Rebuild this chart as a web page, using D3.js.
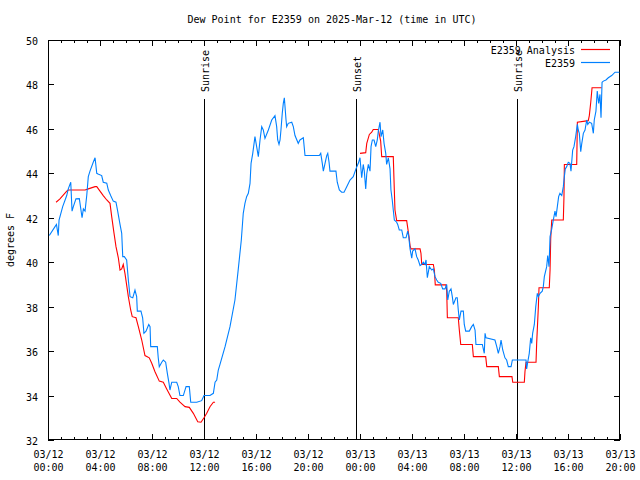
<!DOCTYPE html>
<html><head><meta charset="utf-8">
<script src="https://cdn.jsdelivr.net/npm/d3@7"></script>
<style>
body{margin:0;background:#fff;}
text{font-family:"DejaVu Sans Mono","Liberation Mono",monospace;font-size:10px;fill:#000;}
</style></head>
<body><svg id="c" width="640" height="480"></svg>
<script>
// ---------- data ----------
const titleText = "Dew Point for E2359 on 2025-Mar-12 (time in UTC)";
const yLabel = "degrees F";
const yTicks = [32,34,36,38,40,42,44,46,48,50];
const seriesNames = ["E2359 Analysis","E2359"];
const eventNames = ["Sunrise","Sunset","Sunrise"];
const eventHours = [12.0, 23.7, 36.08];

// observations (hours after 2025-03-12 00:00 UTC, deg F)
const obsHours = [0.1,0.54,0.65,0.79,0.85,1.13,1.44,1.56,1.75,1.85,1.95,2.15,2.41,2.62,2.72,2.85,2.98,3.1,3.23,3.48,3.62,3.75,3.85,4.13,4.25,4.52,4.64,4.82,5.02,5.23,5.36,5.54,5.67,5.75,5.87,6.05,6.18,6.31,6.52,6.69,6.82,6.87,7.15,7.28,7.38,7.54,7.75,7.85,7.9,8.41,8.48,8.56,8.75,8.87,9.05,9.18,9.31,9.38,9.52,9.9,10.02,10.15,10.41,10.62,10.87,10.98,11.44,11.82,12.0,12.46,12.72,12.85,12.98,13.1,13.23,13.62,14.0,14.38,14.62,14.87,15.02,15.15,15.28,15.41,15.54,15.62,15.75,15.92,16.05,16.18,16.31,16.44,16.56,16.69,16.95,17.21,17.46,17.59,17.67,17.77,17.85,17.92,18.02,18.1,18.18,18.31,18.36,18.48,18.75,18.87,19.0,19.25,19.38,19.64,19.77,20.87,20.98,21.1,21.18,21.31,21.44,21.52,21.62,21.69,22.15,22.25,22.41,22.59,22.77,22.98,23.23,23.48,23.69,23.87,24.0,24.13,24.25,24.33,24.44,24.52,24.64,24.77,24.85,24.95,25.08,25.21,25.33,25.41,25.54,25.62,25.75,25.85,25.98,26.05,26.18,26.31,26.38,26.48,26.56,26.64,26.82,26.9,27.02,27.21,27.33,27.54,27.67,27.75,27.85,27.98,28.05,28.23,28.36,28.48,28.62,28.75,28.87,29.0,29.08,29.18,29.33,29.52,29.64,29.77,29.9,30.02,30.21,30.36,30.54,30.67,30.75,30.87,31.0,31.1,31.18,31.38,31.48,31.56,31.64,31.77,31.95,32.02,32.13,32.41,32.59,32.72,32.85,32.92,33.41,33.56,33.62,33.69,34.38,34.52,34.64,34.77,34.85,34.98,35.15,35.28,35.41,35.62,35.72,36.77,36.82,36.9,37.02,37.13,37.21,37.28,37.41,37.52,37.64,37.72,37.85,38.02,38.1,38.18,38.36,38.44,38.54,38.62,38.75,38.87,39.0,39.08,39.18,39.28,39.38,39.52,39.64,39.72,39.79,39.9,40.02,40.15,40.23,40.36,40.46,40.59,40.72,40.79,40.87,40.98,41.05,41.18,41.31,41.44,41.52,41.64,41.82,41.95,42.02,42.15,42.25,42.36,42.46,42.54,42.62,42.72,42.92,43.1,43.36,43.62,43.95];
const obsValues = [41.2,41.6,41.7,41.2,41.9,42.5,43.0,43.3,43.6,42.3,42.5,42.85,42.86,42.0,42.4,42.3,43.0,43.85,44.1,44.5,44.7,44.0,43.97,43.9,43.6,43.56,43.25,43.0,42.75,42.7,42.3,41.7,41.3,40.25,40.25,40.1,39.2,38.45,38.4,38.75,38.45,37.8,37.8,37.5,36.8,36.9,37.2,37.1,36.2,36.2,35.7,35.3,35.5,35.6,35.5,35.0,34.55,34.25,34.6,34.6,34.4,34.0,34.0,34.4,34.4,33.7,33.7,33.77,34.0,34.0,34.1,34.6,34.7,35.15,35.4,36.2,37.1,38.3,39.6,41.0,42.2,42.65,42.95,43.1,43.55,44.45,44.9,45.65,45.2,44.75,45.5,46.1,45.95,45.57,45.95,46.4,46.6,46.1,45.5,45.3,45.5,45.95,46.7,47.15,47.4,46.4,46.1,46.25,46.3,46.1,45.7,45.35,45.5,45.6,44.8,44.8,44.9,44.45,44.1,44.45,44.8,44.9,44.5,44.1,44.1,43.6,43.25,43.15,43.15,43.4,43.7,43.85,44.2,44.45,44.7,43.8,44.4,44.1,43.3,43.98,44.4,44.1,45.2,45.5,45.5,45.2,45.5,45.9,46.3,45.65,45.95,45.35,44.9,44.4,44.7,44.2,43.25,42.8,42.35,41.9,41.8,41.7,41.45,41.45,41.1,41.1,41.4,41.15,40.6,40.18,40.5,40.6,40.25,40.1,39.85,39.9,40.0,39.9,40.1,39.3,39.8,39.65,39.7,39.35,39.2,39.1,39.05,38.8,38.8,39.0,38.3,38.7,38.8,38.45,38.1,38.4,38.4,37.85,37.4,37.8,37.8,37.2,36.9,36.9,37.1,37.2,36.95,36.3,36.3,35.9,36.8,36.6,36.5,36.2,35.9,36.2,36.5,36.05,35.7,35.6,35.3,35.3,35.6,35.6,35.2,35.5,35.9,36.6,36.35,36.8,37.2,38.0,38.6,38.45,38.6,38.7,38.9,39.35,39.8,40.3,39.8,41.15,41.5,41.9,42.3,42.05,42.5,42.95,43.1,43.0,43.4,43.85,44.2,44.3,44.5,44.45,44.1,45.05,45.2,45.65,46.2,45.95,45.8,44.97,45.3,45.8,45.95,46.4,46.2,46.3,46.25,45.8,46.4,46.8,47.7,47.15,47.55,46.5,48.1,48.15,48.2,48.3,48.4,48.55,48.55];

// analysis, first run (day 1)
const anaHours1 = [0.62,0.92,1.44,1.56,2.85,3.1,3.62,3.75,4.0,4.25,4.52,4.77,4.9,5.08,5.23,5.41,5.54,5.67,5.79,5.92,6.18,6.36,6.48,6.77,6.95,7.21,7.46,7.79,7.98,8.23,8.56,8.87,9.13,9.52,9.9,10.15,10.54,10.87,11.18,11.52,11.77,12.0,12.21,12.46,12.72,12.85];
const anaValues1 = [42.7,42.85,43.2,43.25,43.25,43.3,43.4,43.4,43.2,43.0,42.8,42.65,42.05,41.3,40.7,40.2,39.65,39.7,39.9,39.5,38.45,37.85,37.55,37.5,37.1,36.5,35.8,35.7,35.45,35.07,34.65,34.6,34.3,33.87,33.87,33.7,33.5,33.47,33.2,32.82,32.8,33.0,33.2,33.5,33.7,33.7];
// analysis, second run (day 2)
const anaHours2 = [24.0,24.44,24.52,24.72,24.9,25.02,25.41,25.59,25.67,26.56,26.64,26.69,26.82,27.59,27.77,27.85,27.92,28.62,28.69,28.75,29.64,29.72,29.79,30.62,30.67,30.72,31.56,31.64,31.75,32.64,32.72,33.67,33.75,34.64,34.72,35.69,35.75,36.64,36.69,36.77,37.54,37.59,37.72,37.77,38.56,38.62,38.67,38.75,39.64,39.69,39.72,40.67,40.72,41.56,41.64,41.75,41.85,42.59];
const anaValues2 = [44.9,44.93,45.35,45.75,45.85,45.97,45.97,45.45,44.75,44.75,43.25,42.35,41.87,41.87,41.15,40.75,40.6,40.6,40.4,39.9,39.9,39.65,38.98,38.98,38.7,37.5,37.5,36.95,36.3,36.3,35.75,35.75,35.3,35.3,34.85,34.85,34.6,34.6,35.07,35.5,35.5,36.35,38.0,38.85,38.85,39.65,41.05,41.9,41.9,42.95,44.4,44.4,46.3,46.37,46.6,47.2,47.85,47.85];

// ---------- chart ----------
const svg = d3.select("#c");
const T0 = Date.UTC(2025,2,12,0,0);
const H = 3600e3;
const toDate = h => new Date(T0 + h*H);
const L=48, R=620, Tp=40, B=440;
const x = d3.scaleUtc().domain([toDate(0), toDate(44)]).range([L,R]);
const y = d3.scaleLinear().domain([32,50]).range([B,Tp]);

svg.append("text").attr("x",332).attr("y",23).attr("text-anchor","middle").text(titleText);

const majorT = d3.utcHour.every(4).range(toDate(0), toDate(44.01));
const minorT = d3.utcHour.every(1).range(toDate(0), toDate(44.01));

function styleAxis(g){ g.select(".domain").remove(); g.selectAll("line").attr("stroke","#000").attr("shape-rendering","crispEdges"); }

svg.append("g").attr("transform",`translate(0,${B})`)
  .call(d3.axisBottom(x).tickValues(minorT).tickSize(-3).tickFormat(""))
  .call(styleAxis).selectAll("text").remove();
svg.append("g").attr("transform",`translate(0,${Tp})`)
  .call(d3.axisTop(x).tickValues(minorT).tickSize(-3).tickFormat(""))
  .call(styleAxis).selectAll("text").remove();
const xb = svg.append("g").attr("transform",`translate(0,${B})`)
  .call(d3.axisBottom(x).tickValues(majorT).tickSize(-6).tickPadding(6).tickFormat(""))
  .call(styleAxis);
xb.selectAll("text").each(function(d){
  const t=d3.select(this).text(null).attr("font-family",null).attr("font-size",null).attr("dy",null);
  t.append("tspan").attr("x",0).attr("y",18).text(d3.utcFormat("%m/%d")(d));
  t.append("tspan").attr("x",0).attr("y",30.5).text(d3.utcFormat("%H:%M")(d));
});
svg.append("g").attr("transform",`translate(0,${Tp})`)
  .call(d3.axisTop(x).tickValues(majorT).tickSize(-6).tickFormat(""))
  .call(styleAxis).selectAll("text").remove();
const yl = svg.append("g").attr("transform",`translate(${L},0)`)
  .call(d3.axisLeft(y).tickValues(yTicks).tickSize(-6).tickPadding(10).tickFormat(d3.format("d")))
  .call(styleAxis);
yl.selectAll("text").attr("font-family",null).attr("font-size",null).attr("dy","0.45em");
svg.append("g").attr("transform",`translate(${R},0)`)
  .call(d3.axisRight(y).tickValues(yTicks).tickSize(-6).tickFormat(""))
  .call(styleAxis).selectAll("text").remove();

svg.append("rect").attr("x",L+0.5).attr("y",Tp+0.5).attr("width",R-L-1).attr("height",B-Tp-1)
  .attr("fill","none").attr("stroke","#000").attr("shape-rendering","crispEdges");

svg.append("text").attr("transform",`translate(14,${(Tp+B)/2}) rotate(-90)`).attr("text-anchor","middle").text(yLabel);

// sunrise / sunset
eventHours.forEach((h,i)=>{
  const px = Math.round(x(toDate(h)))+0.5;
  svg.append("line").attr("x1",px).attr("x2",px).attr("y1",99).attr("y2",B).attr("stroke","#000");
  svg.append("text").attr("transform",`translate(${px+4},92) rotate(-90)`).attr("text-anchor","start").text(eventNames[i]);
});

const line = d3.line().x(d=>x(toDate(d[0]))).y(d=>y(d[1]));
const ana1 = anaHours1.map((h,i)=>[h,anaValues1[i]]);
const ana2 = anaHours2.map((h,i)=>[h,anaValues2[i]]);
const obs = obsHours.map((h,i)=>[h,obsValues[i]]);
const RED="#ff0000", BLUE="#0080ff";
[ana1,ana2].forEach(d=>svg.append("path").attr("d",line(d)).attr("fill","none").attr("stroke",RED).attr("stroke-width",1.1));
svg.append("path").attr("d",line(obs)).attr("fill","none").attr("stroke",BLUE).attr("stroke-width",1.1);

// legend
[RED,BLUE].forEach((c,i)=>{
  const yy = 49.5 + i*13;
  svg.append("text").attr("x",575).attr("y",yy+4).attr("text-anchor","end").text(seriesNames[i]);
  svg.append("line").attr("x1",581).attr("x2",610).attr("y1",yy).attr("y2",yy).attr("stroke",c).attr("stroke-width",1.2);
});
</script></body></html>
